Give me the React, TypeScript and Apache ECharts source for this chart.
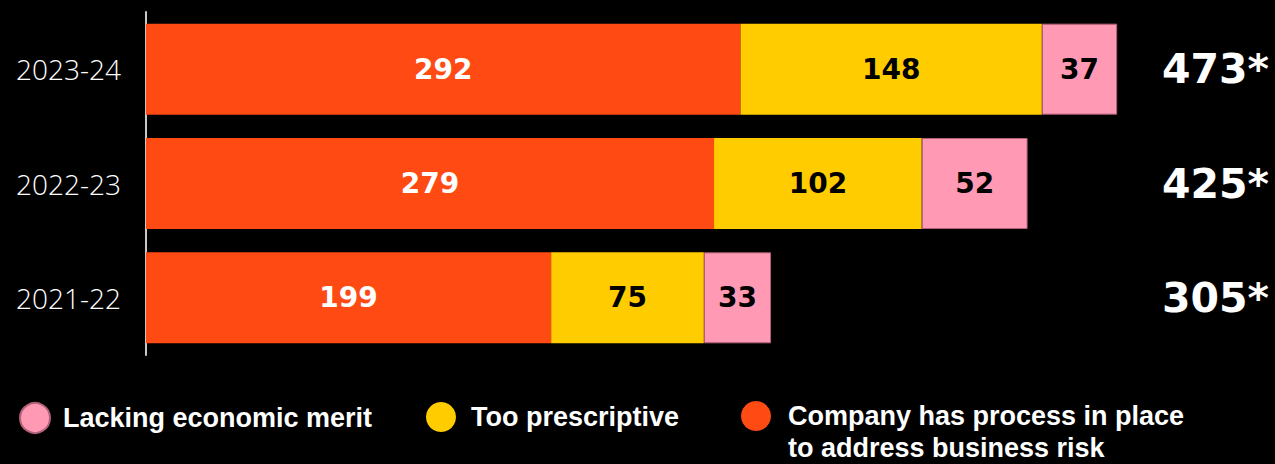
import React, { useEffect, useRef } from "react";
import * as echarts from "echarts";

const categories = ["2023-24", "2022-23", "2021-22"];
const companyProcess = [292, 279, 199];
const tooPrescriptive = [148, 102, 75];
const lackingMerit = [37, 52, 33];
const totals = ["473*", "425*", "305*"];

const seriesNames = {
  company: "Company has process in place to address business risk",
  prescriptive: "Too prescriptive",
  merit: "Lacking economic merit",
};

const COLORS = { company: "#FF4A14", prescriptive: "#FFCC00", merit: "#FF99B4" };
const NUM_FONT = "DejaVu Sans";
const LABEL_FONT = "Open Sans";
const LEGEND_FONT = "Liberation Sans";

export default function App() {
  const ref = useRef<HTMLDivElement>(null);
  useEffect(() => {
    if (!ref.current) return;
    const chart = echarts.init(ref.current, null, { renderer: "svg" });
    const labelBase = {
      show: true,
      position: "inside" as const,
      fontFamily: NUM_FONT,
      fontWeight: "bold" as const,
      fontSize: 28,
    };
    const legendText = (pad: number) => ({
      color: "#fff",
      fontFamily: LEGEND_FONT,
      fontWeight: "bold" as const,
      fontSize: 27,
      lineHeight: 30,
      padding: [0, 0, 0, pad],
    });
    chart.setOption({
      animation: false,
      backgroundColor: "#000",
      grid: { left: 146, top: 12, width: 1018, height: 343, containLabel: false },
      xAxis: {
        type: "value",
        min: 0,
        max: 500,
        show: false,
      },
      yAxis: [
        {
          type: "category",
          data: categories,
          inverse: true,
          axisLine: { show: true, lineStyle: { color: "#c8c8c8", width: 2 } },
          axisTick: { show: false },
          axisLabel: {
            color: "#fff",
            fontFamily: LABEL_FONT,
            fontWeight: 300,
            fontSize: 28,
            margin: 25,
          },
        },
        {
          type: "category",
          data: totals,
          inverse: true,
          position: "right",
          axisLine: { show: false },
          axisTick: { show: false },
          axisLabel: {
            color: "#fff",
            fontFamily: NUM_FONT,
            fontWeight: "bold",
            fontSize: 41,
            align: "left",
            margin: -2,
          },
        },
      ],
      legend: [
        {
          data: [seriesNames.merit],
          left: 19,
          top: 402,
          padding: 0,
          icon: "circle",
          itemWidth: 30,
          itemHeight: 30,
          selectedMode: false,
          textStyle: legendText(8),
        },
        {
          data: [seriesNames.prescriptive],
          left: 426,
          top: 402,
          padding: 0,
          icon: "circle",
          itemWidth: 30,
          itemHeight: 30,
          selectedMode: false,
          textStyle: legendText(10),
        },
        {
          data: [seriesNames.company],
          left: 741,
          top: 368,
          padding: 0,
          icon: "circle",
          itemWidth: 30,
          itemHeight: 30,
          selectedMode: false,
          formatter: () => "\nCompany has process in place\nto address business risk",
          textStyle: {
            color: "#fff",
            fontFamily: LEGEND_FONT,
            fontWeight: "bold",
            fontSize: 27,
            lineHeight: 32,
            padding: [0, 0, 0, 12],
          },
        },
      ],
      series: [
        {
          name: seriesNames.company,
          type: "bar",
          stack: "total",
          barWidth: 91,
          data: companyProcess,
          itemStyle: { color: COLORS.company },
          label: { ...labelBase, color: "#fff" },
        },
        {
          name: seriesNames.prescriptive,
          type: "bar",
          stack: "total",
          barWidth: 91,
          data: tooPrescriptive,
          itemStyle: { color: COLORS.prescriptive },
          label: { ...labelBase, color: "#000" },
        },
        {
          name: seriesNames.merit,
          type: "bar",
          stack: "total",
          barWidth: 91,
          data: lackingMerit,
          itemStyle: { color: COLORS.merit, borderColor: "#b06078", borderWidth: 1 },
          label: { ...labelBase, color: "#000" },
        },
      ],
    });
    return () => chart.dispose();
  }, []);
  return (
    <div
      ref={ref}
      style={{ position: "fixed", left: 0, top: 0, width: 1275, height: 464, background: "#000" }}
    />
  );
}
